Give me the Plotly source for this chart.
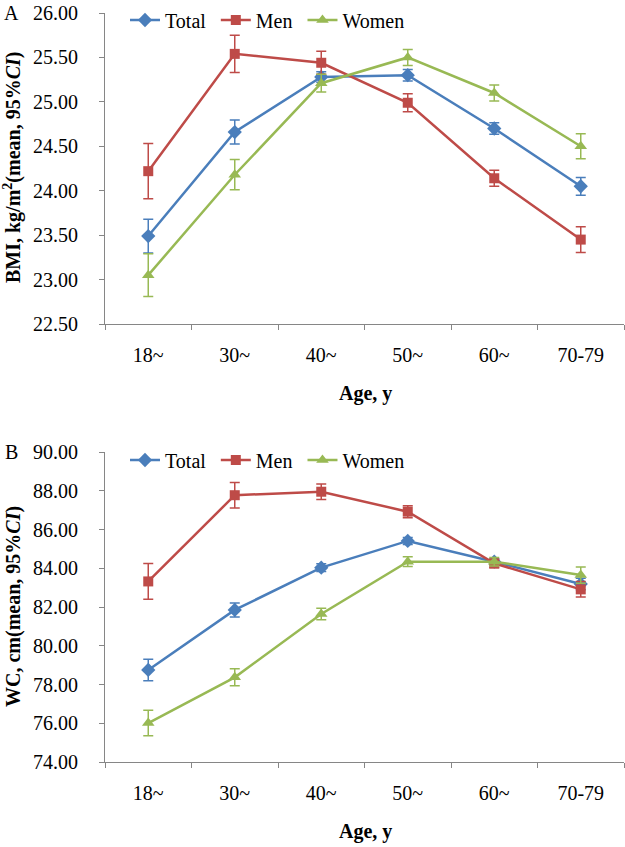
import plotly.graph_objects as go

ages = ["18~", "30~", "40~", "50~", "60~", "70-79"]

bmi_total = [23.49, 24.66, 25.28, 25.30, 24.70, 24.05]
bmi_total_ci = [0.19, 0.135, 0.06, 0.065, 0.065, 0.10]
bmi_men = [24.22, 25.54, 25.44, 24.99, 24.14, 23.45]
bmi_men_ci = [0.31, 0.21, 0.13, 0.10, 0.09, 0.145]
bmi_women = [23.05, 24.18, 25.21, 25.50, 25.10, 24.50]
bmi_women_ci = [0.24, 0.17, 0.10, 0.09, 0.09, 0.14]

wc_total = [78.75, 81.85, 84.03, 85.41, 84.34, 83.19]
wc_total_ci = [0.55, 0.36, 0.20, 0.18, 0.15, 0.30]
wc_men = [83.32, 87.77, 87.95, 86.92, 84.25, 82.91]
wc_men_ci = [0.92, 0.66, 0.40, 0.31, 0.22, 0.40]
wc_women = [76.01, 78.37, 81.64, 84.34, 84.34, 83.65]
wc_women_ci = [0.66, 0.44, 0.30, 0.25, 0.22, 0.42]

names = ["Total\u00a0", "Men\u00a0", "Women"]
colors = ["#4A7EBB", "#BE4B48", "#98B954"]
symbols = ["diamond", "square", "triangle-up"]
msizes = [11, 10, 11]

FONT = "Liberation Serif"
W, H = 625, 847

fig = go.Figure()

panels = [
    ([bmi_total, bmi_men, bmi_women], [bmi_total_ci, bmi_men_ci, bmi_women_ci], "x", "y", "legend"),
    ([wc_total, wc_men, wc_women], [wc_total_ci, wc_men_ci, wc_women_ci], "x2", "y2", "legend2"),
]
for series, cis, xa, ya, lg in panels:
    for i in range(3):
        fig.add_trace(go.Scatter(
            x=ages, y=series[i], name=names[i], mode="lines+markers",
            xaxis=xa, yaxis=ya, legend=lg,
            line=dict(color=colors[i], width=2.5),
            marker=dict(symbol=symbols[i], size=msizes[i], color=colors[i]),
            error_y=dict(type="data", array=cis[i], visible=True,
                         color=colors[i], thickness=1.5, width=5),
        ))

def px_x(p):
    return p / W

def px_y(p):
    return 1 - p / H

axis_common = dict(showline=True, linecolor="#868686", linewidth=1, showgrid=False,
                   zeroline=False, ticks="outside", tickcolor="#868686", ticklen=5,
                   ticklabeloverflow="allow",
                   tickfont=dict(family=FONT, size=20, color="black"))

x_dom = [px_x(105), px_x(624)]
xcommon = dict(type="category", range=[-0.5, 5.5], tickson="boundaries",
               ticklabelstandoff=13, **axis_common)
ycommon = dict(tickformat=".2f", ticklabelstandoff=17, **axis_common)
fig.update_layout(
    width=W, height=H, margin=dict(l=0, r=0, t=0, b=0, autoexpand=False),
    paper_bgcolor="white", plot_bgcolor="white",
    font=dict(family=FONT, size=20, color="black"),
    xaxis=dict(domain=x_dom, anchor="y", **xcommon),
    yaxis=dict(domain=[px_y(324), px_y(13)], anchor="x", range=[22.5, 26.0], dtick=0.5, **ycommon),
    xaxis2=dict(domain=x_dom, anchor="y2", **xcommon),
    yaxis2=dict(domain=[px_y(762), px_y(452)], anchor="x2", range=[74, 90], dtick=2, **ycommon),
    legend=dict(orientation="h", x=px_x(125), xanchor="left", y=px_y(20), yanchor="middle",
                font=dict(family=FONT, size=20), bgcolor="rgba(0,0,0,0)", itemwidth=30),
    legend2=dict(orientation="h", x=px_x(125), xanchor="left", y=px_y(460), yanchor="middle",
                 font=dict(family=FONT, size=20), bgcolor="rgba(0,0,0,0)", itemwidth=30),
)

def note(text, x, y, angle=0):
    return dict(text=text, x=px_x(x), y=px_y(y), xref="paper", yref="paper", textangle=angle,
                xanchor="center", yanchor="middle", showarrow=False,
                font=dict(family=FONT, size=20, color="black"))

ann = [
    note("A", 12, 13),
    note("B", 12, 452),
    note("<b>BMI, kg/m<sup>2</sup>(mean, 95%<i>CI</i>)</b>", 12, 168, -90),
    note("<b>WC, cm(mean, 95%<i>CI</i>)</b>", 13, 607, -90),
    note("<b>Age, y</b>", 365, 393),
    note("<b>Age, y</b>", 365, 831),
]
fig.update_layout(annotations=ann)

# remove the default 8px page margin so the figure fills the window exactly
fig.write_html("out.html", config={"displayModeBar": False},
               post_script="document.body.style.margin='0';")
